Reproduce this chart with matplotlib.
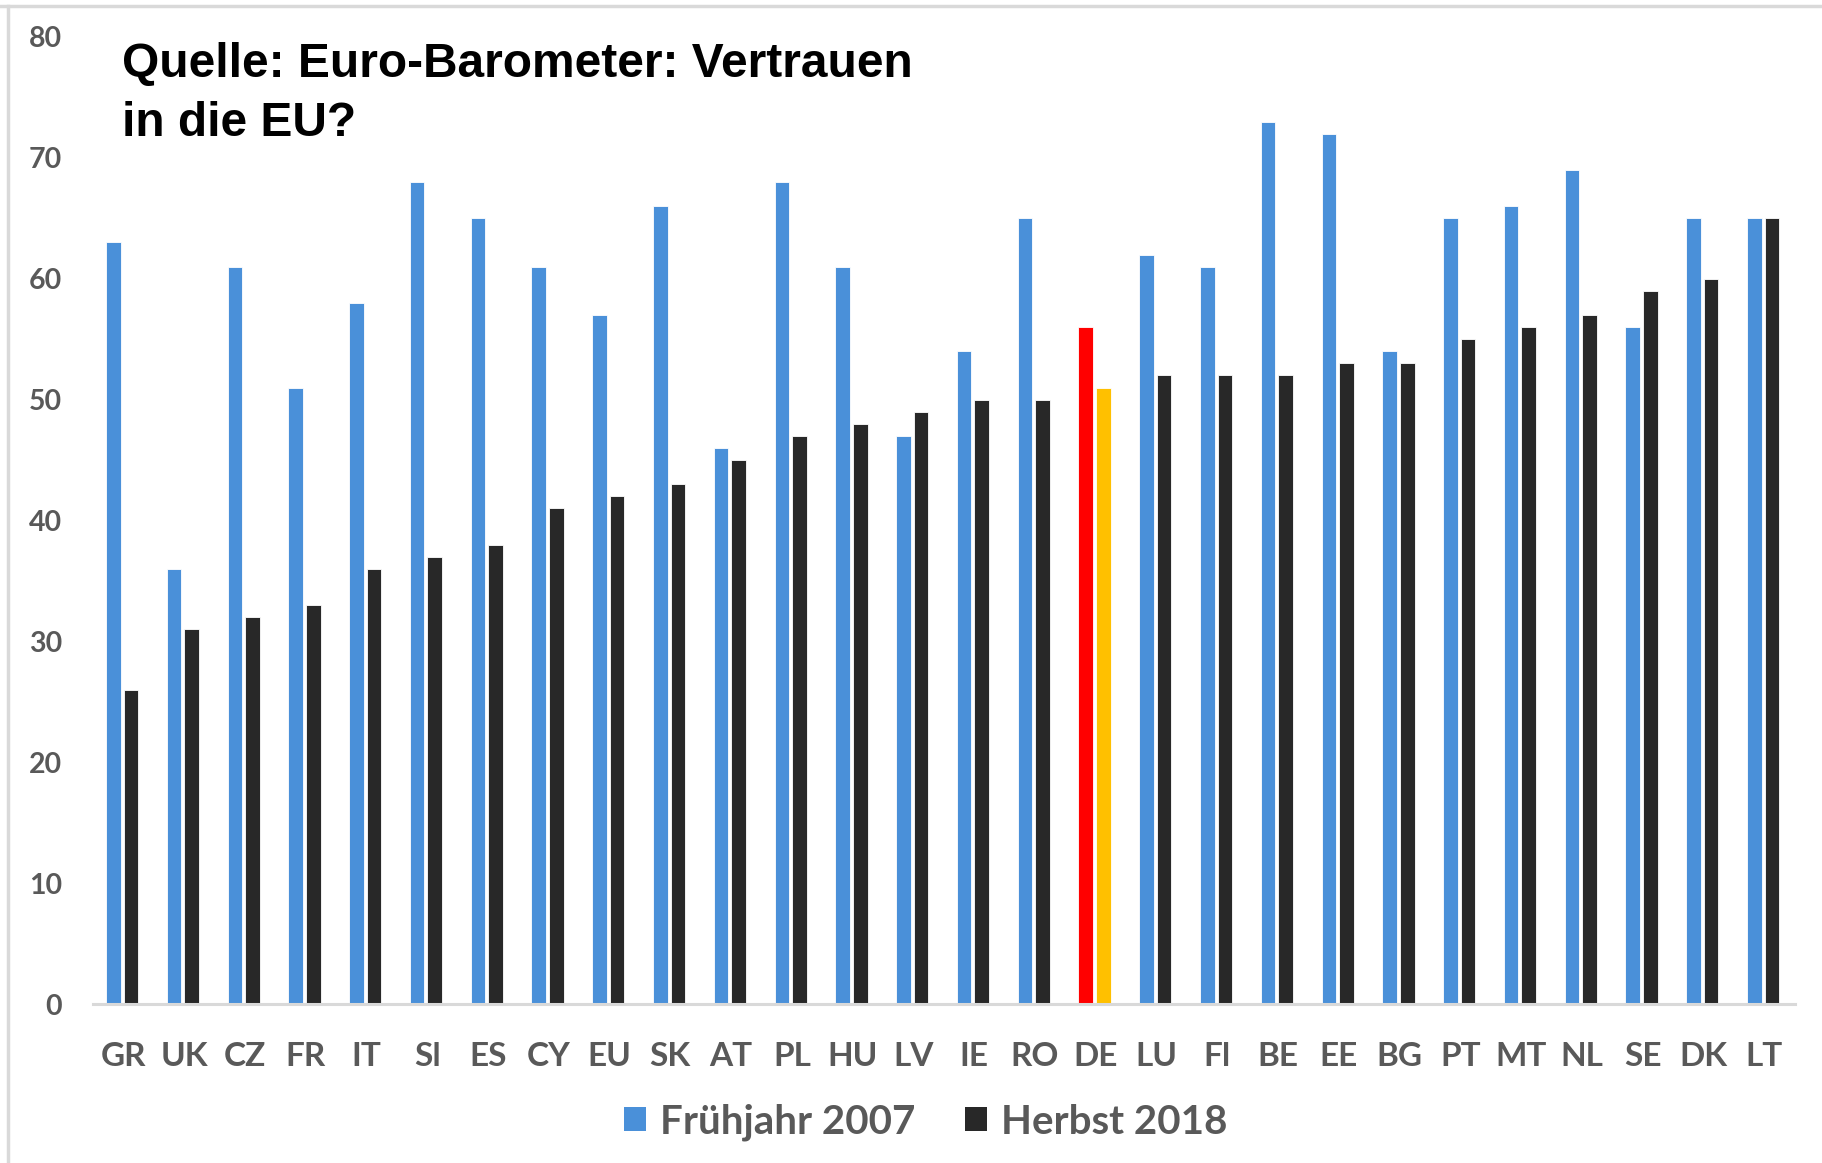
import matplotlib
matplotlib.use("Agg")
import matplotlib.pyplot as plt
import numpy as np
from matplotlib.patches import Patch
from matplotlib.lines import Line2D

countries = ["GR", "UK", "CZ", "FR", "IT", "Sl", "ES", "CY", "EU", "SK", "AT", "PL", "HU", "LV",
             "IE", "RO", "DE", "LU", "Fl", "BE", "EE", "BG", "PT", "MT", "NL", "SE", "DK", "LT"]
fruehjahr_2007 = [63, 36, 61, 51, 58, 68, 65, 61, 57, 66, 46, 68, 61, 47,
                  54, 65, 56, 62, 61, 73, 72, 54, 65, 66, 69, 56, 65, 65]
herbst_2018 = [26, 31, 32, 33, 36, 37, 38, 41, 42, 43, 45, 47, 48, 49,
               50, 50, 51, 52, 52, 52, 53, 53, 55, 56, 57, 59, 60, 65]
series_names = ["Frühjahr 2007", "Herbst 2018"]
y_ticks = [0, 10, 20, 30, 40, 50, 60, 70, 80]
title_lines = ["Quelle: Euro-Barometer: Vertrauen", "in die EU?"]

BLUE = "#4A90D9"
DARK = "#282828"
GREY = "#595959"
FONT = "Lato"

fig = plt.figure(figsize=(18.22, 11.63), dpi=100)
ax = fig.add_axes([0.051, 0.1367, 0.934, 0.8315])

x = np.arange(len(countries))
w = 0.24
off = 0.145
c07 = [BLUE] * len(countries)
c18 = [DARK] * len(countries)
de = countries.index("DE")
c07[de] = "#FF0000"
c18[de] = "#FFC000"
ax.bar(x - off - 0.02, fruehjahr_2007, width=w, color=c07, edgecolor="white", linewidth=0.6)
ax.bar(x + off - 0.02, herbst_2018, width=w, color=c18, edgecolor="white", linewidth=0.6)

ax.set_xlim(-0.5, len(countries) - 0.5)
ax.set_ylim(0, 80)
ax.set_yticks(y_ticks)
ax.set_xticks(x)
ax.set_xticklabels(countries)
for s in ["top", "right", "left"]:
    ax.spines[s].set_visible(False)
ax.spines["bottom"].set_color("#D9D9D9")
ax.spines["bottom"].set_linewidth(2.2)
ax.tick_params(axis="both", length=0)
ax.tick_params(axis="x", pad=27)
ax.tick_params(axis="y", pad=22)
for lab in ax.get_xticklabels():
    lab.set_fontfamily(FONT); lab.set_fontweight("bold"); lab.set_fontsize(24); lab.set_color(GREY)
for lab in ax.get_yticklabels():
    lab.set_fontfamily(FONT); lab.set_fontweight("bold"); lab.set_fontsize(20.5); lab.set_color(GREY)

fig.text(0.067, 1 - 77 / 1163, title_lines[0], fontfamily="Liberation Sans",
         fontweight="bold", fontsize=34.5, color="black", va="baseline", ha="left")
fig.text(0.067, 1 - 136 / 1163, title_lines[1], fontfamily="Liberation Sans",
         fontweight="bold", fontsize=34.5, color="black", va="baseline", ha="left")

handles = [Patch(facecolor=BLUE), Patch(facecolor=DARK)]
leg = fig.legend(handles, series_names, loc="center", bbox_to_anchor=(0.508, 0.035), ncol=2,
                 frameon=False, handlelength=0.55, handleheight=0.55, handletextpad=0.33,
                 columnspacing=1.25, prop={"family": FONT, "weight": "bold", "size": 29})
for t in leg.get_texts():
    t.set_color(GREY)

fig.add_artist(Line2D([0.0, 1.0], [1 - 6 / 1163, 1 - 6 / 1163], transform=fig.transFigure,
                      color="#D9D9D9", linewidth=2.5))
fig.add_artist(Line2D([8 / 1822, 8 / 1822], [0, 1 - 6 / 1163], transform=fig.transFigure,
                      color="#D9D9D9", linewidth=2.5))

fig.savefig("out.png", dpi=100, facecolor="white")
